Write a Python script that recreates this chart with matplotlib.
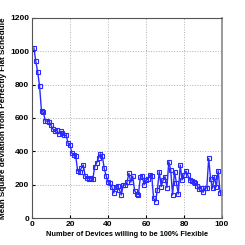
import matplotlib
matplotlib.use("Agg")
import matplotlib.pyplot as plt
import numpy as np

devices = list(range(1, 101))
msd = [1020, 940, 875, 790, 640, 635, 582, 582, 578, 556,
       534, 520, 528, 505, 520, 510, 498, 495, 448, 440,
       388, 380, 372, 285, 275, 300, 318, 250, 240, 235,
       238, 232, 308, 330, 360, 385, 372, 298, 255, 215,
       208, 188, 150, 188, 190, 170, 138, 198, 198, 215,
       268, 215, 250, 165, 145, 140, 244, 252, 200, 228,
       232, 258, 255, 118, 98, 170, 278, 188, 228, 248,
       182, 338, 288, 138, 278, 212, 144, 318, 228, 258,
       282, 258, 228, 222, 218, 208, 192, 172, 180, 154,
       178, 182, 358, 232, 178, 248, 188, 284, 152, 158]
xticks = [0, 20, 40, 60, 80, 100]
yticks = [0, 200, 400, 600, 800, 1000, 1200]

plt.rcParams['font.family'] = ['Liberation Sans', 'DejaVu Sans']
fig = plt.figure(figsize=(2.45, 2.45), dpi=100)
ax = fig.add_axes([32/245, 27/245, 190/245, 200/245])
ax.plot(devices, msd, color='#2a2aff', lw=1.0, marker='s', ms=2.6,
        mfc='none', mec='#2a2aff', mew=0.8)
ax.set_xlim(0, 100)
ax.set_ylim(0, 1200)
ax.set_xticks(xticks)
ax.set_yticks(yticks)
ax.grid(True, linestyle=':', color='#b0b0b0', lw=0.7)
ax.tick_params(direction='in', length=2, labelsize=6, pad=2)
for lbl in ax.get_xticklabels() + ax.get_yticklabels():
    lbl.set_fontweight('bold')
for s in ax.spines.values():
    s.set_color('#555555')
    s.set_linewidth(0.8)
ax.spines['right'].set_linewidth(1.2)
ax.spines['right'].set_color('#888888')
ax.set_xlabel('Number of Devices willing to be 100% Flexible', fontsize=5.3, fontweight='bold', labelpad=2.5)
ax.set_ylabel('Mean Square deviation from Perfectly Flat Schedule', fontsize=5.9, fontweight='bold', labelpad=2)
fig.savefig('out.png', dpi=100)
